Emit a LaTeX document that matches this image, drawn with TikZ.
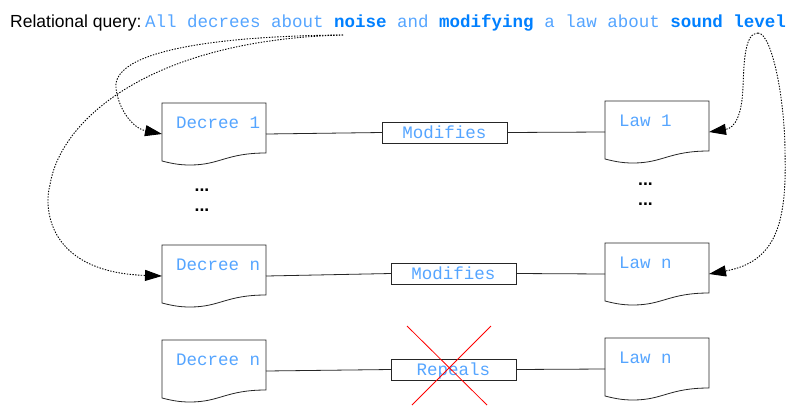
\documentclass[tikz,border=0pt]{standalone}
\usepackage{fontspec}
\setmainfont{Liberation Sans}
\newfontfamily\monofam{Liberation Mono}
\usetikzlibrary{arrows.meta}
\definecolor{lightq}{RGB}{85,165,255}
\definecolor{boldq}{RGB}{0,128,255}
\tikzset{
 docbox/.style={minimum width=104pt, minimum height=62pt, inner sep=0pt, outer sep=0pt},
 docline/.style={line width=0.8pt, draw=black!85, fill=white},
 doctext/.style={anchor=base west, inner sep=0pt, text=lightq, font=\monofam\fontsize{17.5}{20}\selectfont},
 relbox/.style={draw=black!85, line width=0.8pt, fill=white, minimum width=125pt, minimum height=21pt, inner sep=0pt, outer sep=0pt, text height=13pt, text depth=2pt, text=lightq, font=\monofam\fontsize{17.5}{20}\selectfont},
 link/.style={line width=0.8pt, draw=black!85},
 qarrow/.style={line width=0.9pt, dash pattern=on 1.4pt off 1.4pt, -{Triangle[length=17pt,width=11pt]}},
 crossline/.style={red, line width=0.8pt},
 dotsnode/.style={font=\bfseries\fontsize{17.5}{20}\selectfont, anchor=base, inner sep=0pt},
}
\begin{document}
\begin{tikzpicture}[x=1pt,y=-1pt]
\fill[white] (0,0) rectangle (788,405);
\useasboundingbox (0,0) rectangle (788,405);

% query line
\node[anchor=base west, inner sep=0pt, font=\fontsize{17.5}{20}\selectfont] (qlabel) at (10,27) {Relational query:};
\node[anchor=base west, inner sep=0pt, text=lightq, font=\monofam\fontsize{17.5}{20}\selectfont] (qtext) at (145,27)
 {All decrees about \textbf{\color{boldq}noise} and \textbf{\color{boldq}modifying} a law about \textbf{\color{boldq}sound level}};
\coordinate (qa) at (343,35);
\coordinate (qb) at (758,33);

% document nodes
\node[docbox] (d1) at (214,134) {};
\node[docbox] (l1) at (657,132) {};
\node[docbox] (dn) at (214,276) {};
\node[docbox] (ln) at (657,274) {};
\node[docbox] (dr) at (214,371) {};
\node[docbox] (lr) at (657,369) {};
\foreach \n in {d1,l1,dn,ln,dr,lr}{
 \draw[docline] (\n.north west) -- (\n.north east) -- ([yshift=-50pt]\n.north east)
   .. controls +(-40,0) and +(30,0) .. ([xshift=28pt]\n.south west)
   .. controls +(-12,0) and +(8,2) .. ([yshift=4pt]\n.south west) -- cycle;
}
\node[doctext] (d1t) at (176,128) {Decree 1};
\node[doctext] (l1t) at (619,126) {Law 1};
\node[doctext] (dnt) at (176,270) {Decree n};
\node[doctext] (lnt) at (619,268) {Law n};
\node[doctext] (drt) at (176,365) {Decree n};
\node[doctext] (lrt) at (619,363) {Law n};

% relation boxes
\node[relbox] (m1) at (444.5,132.5) {Modifies};
\node[relbox] (m2) at (453.5,273.5) {Modifies};
\node[relbox] (rp) at (453.5,369.5) {Repeals};

\draw[link] (d1.east) -- (m1.west);
\draw[link] (m1.east) -- (l1.west);
\draw[link] (dn.east) -- (m2.west);
\draw[link] (m2.east) -- (ln.west);
\draw[link] (dr.east) -- (rp.west);
\draw[link] (rp.east) -- (lr.west);

% dots
\node[dotsnode] (dotsl1) at (202,191) {...};
\node[dotsnode] (dotsl2) at (202,211) {...};
\node[dotsnode] (dotsr1) at (645.5,185.5) {...};
\node[dotsnode] (dotsr2) at (645.5,205.5) {...};

% query arrows
\draw[qarrow] (qa) .. controls (210,36) and (112,52) .. (116,88)
  .. controls (118,108) and (132,128) .. (d1.west);
\draw[qarrow] (qa) .. controls (150,40) and (60,120) .. (50,185)
  .. controls (44,205) and (45,272) .. (dn.west);
\draw[qarrow] (qb) .. controls (745,33) and (744,60) .. (743,87)
  .. controls (742,115) and (735,128) .. (l1.east);
\draw[qarrow] (qb) .. controls (772,33) and (785,100) .. (785,153)
  .. controls (787,225) and (775,262) .. (ln.east);

% red cross
\coordinate (x1) at (407,326);
\coordinate (x2) at (487,405);
\coordinate (x3) at (491,326);
\coordinate (x4) at (412,405);
\draw[crossline] (x1) -- (x2);
\draw[crossline] (x3) -- (x4);
\end{tikzpicture}
\end{document}
